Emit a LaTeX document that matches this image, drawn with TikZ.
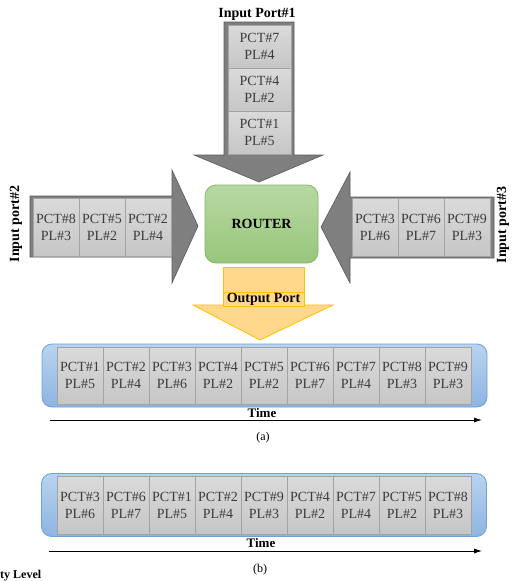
\documentclass[tikz,border=0pt]{standalone}
\usepackage{fontspec}
\setmainfont{Liberation Serif}
\usetikzlibrary{arrows.meta,positioning,calc}
\definecolor{arrgray}{HTML}{7F7F7F}
\definecolor{arrline}{HTML}{5A5A5A}
\definecolor{cellhi}{HTML}{DADADA}
\definecolor{celllo}{HTML}{C6C6C6}
\definecolor{cellline}{HTML}{A3A3A3}
\definecolor{celltext}{HTML}{3C3C3C}
\definecolor{rtgreenhi}{HTML}{B7D8A3}
\definecolor{rtgreenlo}{HTML}{98C67C}
\definecolor{rtgreenline}{HTML}{84B56A}
\definecolor{outfill}{HTML}{FFD88C}
\definecolor{outline}{HTML}{FFC000}
\definecolor{qhi}{HTML}{B8D3EF}
\definecolor{qlo}{HTML}{8DB4E2}
\definecolor{qline}{HTML}{6FA0D8}

\begin{document}
\begin{tikzpicture}[x=1pt,y=-1pt,
  pkt/.style={draw=cellline, top color=cellhi, bottom color=celllo, minimum width=46pt,
    minimum height=58pt, inner sep=0pt, align=center, text=celltext,
    font=\fontsize{14}{17}\selectfont},
  lbl/.style={font=\fontsize{14}{16}\selectfont\bfseries},
  bigarrow/.style={fill=arrgray, draw=arrline, line width=0.6pt},
  queue/.style={draw=qline, line width=0.8pt, top color=qhi, bottom color=qlo,
    rounded corners=10pt, minimum width=445pt, minimum height=63pt}]
  \useasboundingbox (0,0) rectangle (512,581);

  % input port 1 (top)
  \draw[bigarrow] (224,22) -- (294,22) -- (294,155) -- (323,155) -- (259,182)
    -- (194,155) -- (224,155) -- cycle;
  \node[lbl] (port1) at (257,14) {Input Port\#1};
  \foreach \k/\p/\l in {0/7/4,1/4/2,2/1/5}{
    \node[pkt, minimum width=63pt, minimum height=43pt] (top\k) at (259.5,46.5+43*\k) {PCT\#\p\\PL\#\l};
  }

  % input port 2 (left)
  \draw[bigarrow] (30,196) -- (172,196) -- (172,170) -- (198,226) -- (172,283)
    -- (172,257) -- (30,257) -- cycle;
  \node[lbl, rotate=90] (port2) at (16,224) {Input port\#2};
  \foreach \k/\p/\l in {0/8/3,1/5/2,2/2/4}{
    \node[pkt] (left\k) at (56+46*\k,227) {PCT\#\p\\PL\#\l};
  }

  % input port 3 (right)
  \draw[bigarrow] (494,197) -- (350,197) -- (350,172) -- (321,227) -- (350,283)
    -- (350,258) -- (494,258) -- cycle;
  \node[lbl, rotate=90, inner sep=0pt] (port3) at (503,225) {Input port\#3};
  \foreach \k/\p/\l in {0/3/6,1/6/7,2/9/3}{
    \node[pkt] (right\k) at (375+46*\k,227.5) {PCT\#\p\\PL\#\l};
  }

  % router
  \node[lbl, draw=rtgreenline, line width=0.8pt, top color=rtgreenhi, bottom color=rtgreenlo,
    rounded corners=11pt, minimum width=113pt, minimum height=78pt] (router) at (261.5,224) {ROUTER};

  % output port
  \draw[fill=outfill, draw=outline, line width=0.8pt] (193,305) -- (333,305) -- (260,340) -- cycle;
  \node[fill=outfill, draw=outline, line width=0.8pt, minimum width=81pt, minimum height=25pt,
    inner sep=0pt] (outbox) at (263.5,279.5) {};
  \node[lbl, fill=outfill, draw=outline, line width=0.8pt, minimum width=81pt, minimum height=14pt,
    inner sep=0pt, below=0pt of outbox] (outlbl) {Output Port};

  % queue (a)
  \node[queue] (qa) at (264.5,375.5) {};
  \foreach \k/\p/\l in {0/1/5,1/2/4,2/3/6,3/4/2,4/5/2,5/6/7,6/7/4,7/8/3,8/9/3}{
    \node[pkt, minimum height=57pt] (qa\k) at (80+46*\k,375.5) {PCT\#\p\\PL\#\l};
  }
  \node[font=\fontsize{13}{15}\selectfont\bfseries] (timea) at (262,413) {Time};
  \coordinate (ta0) at (50,420);
  \coordinate (ta1) at (482,420);
  \draw[line width=0.8pt, -{Latex[length=8pt,width=5pt]}] (ta0) -- (ta1);
  \node[font=\fontsize{12}{14}\selectfont] (capa) at (263,438) {(a)};

  % queue (b)
  \node[queue] (qb) at (264,505) {};
  \foreach \k/\p/\l in {0/3/6,1/6/7,2/1/5,3/2/4,4/9/3,5/4/2,6/7/4,7/5/2,8/8/3}{
    \node[pkt] (qb\k) at (80+46*\k,505) {PCT\#\p\\PL\#\l};
  }
  \node[font=\fontsize{13}{15}\selectfont\bfseries] (timeb) at (261,543) {Time};
  \coordinate (tb0) at (49,551);
  \coordinate (tb1) at (482,551);
  \draw[line width=0.8pt, -{Latex[length=8pt,width=5pt]}] (tb0) -- (tb1);
  \node[font=\fontsize{12}{14}\selectfont] (capb) at (260,570) {(b)};

  \node[font=\fontsize{12}{14}\selectfont\bfseries, anchor=base west, inner sep=0pt] (plnote) at (0,578) {ty Level};
\end{tikzpicture}
\end{document}
